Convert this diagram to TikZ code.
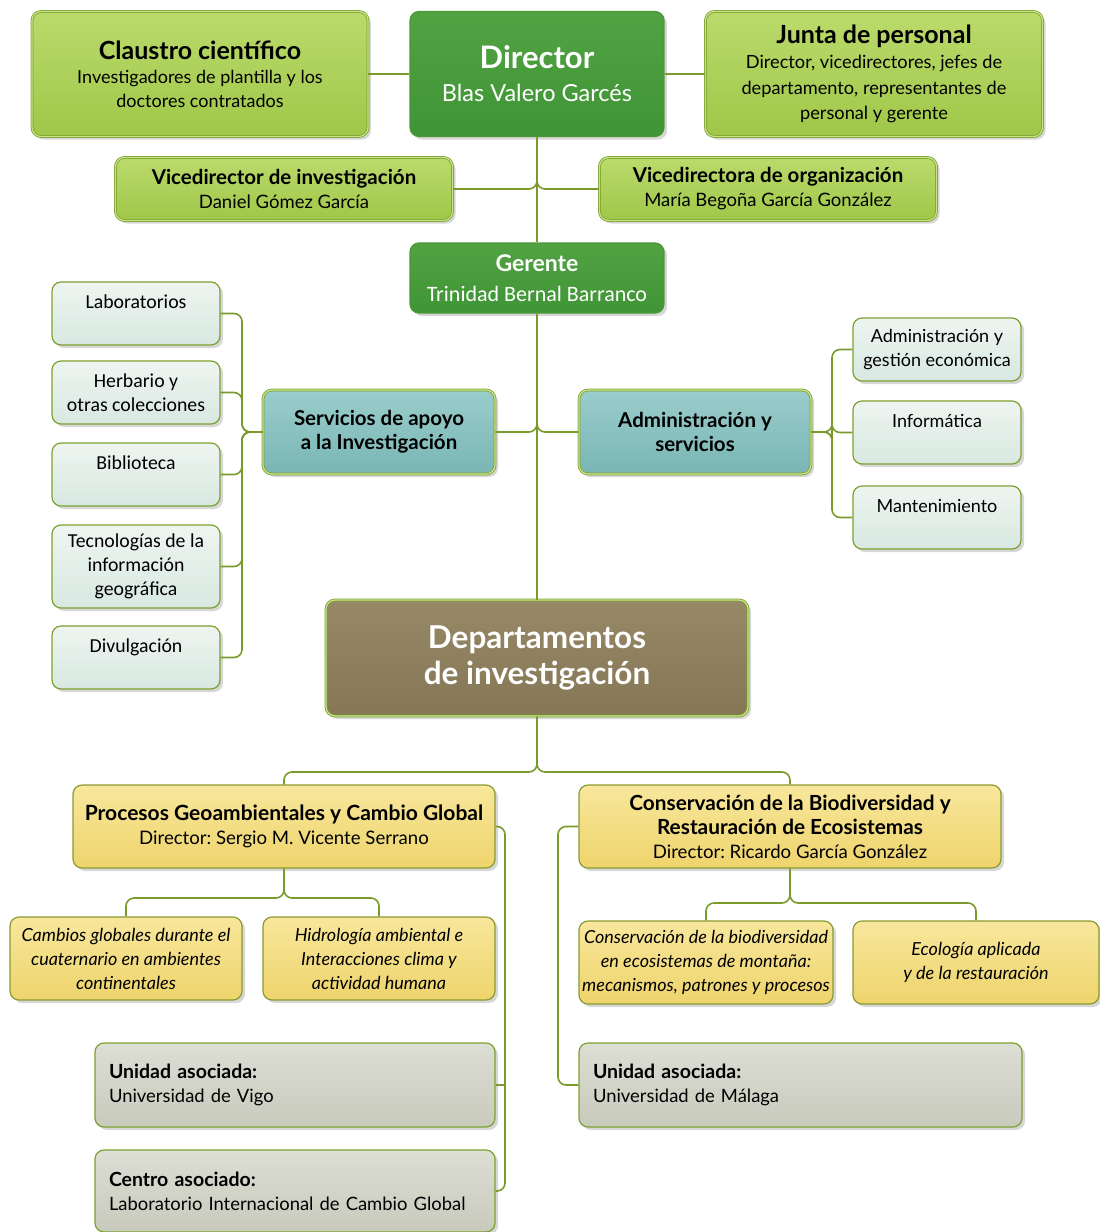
\documentclass[tikz,border=0pt]{standalone}
\usepackage{fontspec}
\setmainfont{Lato}
\newfontfamily\calfont{Carlito}
\usepackage{xcolor}
\usetikzlibrary{shadows}
\frenchspacing

\definecolor{edge}{HTML}{7DA12F}
\definecolor{edgelight}{HTML}{C9E38A}
\definecolor{connline}{HTML}{7B9A2C}
\definecolor{lgtop}{HTML}{BBDA6C}
\definecolor{lgbot}{HTML}{9FC748}
\definecolor{dgtop}{HTML}{52A242}
\definecolor{dgbot}{HTML}{3F9536}
\definecolor{tltop}{HTML}{9ACDCC}
\definecolor{tlbot}{HTML}{79B6B4}
\definecolor{pltop}{HTML}{EEF5F1}
\definecolor{plbot}{HTML}{D8E8E1}
\definecolor{dptop}{HTML}{978966}
\definecolor{dpbot}{HTML}{857656}
\definecolor{yltop}{HTML}{F8E79C}
\definecolor{ylbot}{HTML}{EED46C}
\definecolor{grtop}{HTML}{DDDED4}
\definecolor{grbot}{HTML}{C8CABC}

\newcommand*\setfs[2]{\fontsize{#1}{#2}\selectfont}

\tikzset{
  box/.style={rounded corners=9pt, draw=edge, line width=1.2pt, align=center,
    inner sep=0pt, drop shadow={shadow xshift=3pt, shadow yshift=-3pt,
    opacity=0.35, fill=black!45}},
  dbl/.style={line width=0.8pt, double=edgelight, double distance=1.2pt},
  lgreen/.style={box, dbl, top color=lgtop, bottom color=lgbot},
  dgreen/.style={box, draw=dgbot!80!edge, top color=dgtop, bottom color=dgbot, text=white},
  tealbox/.style={box, dbl, top color=tltop, bottom color=tlbot},
  palebox/.style={box, top color=pltop, bottom color=plbot, minimum width=168pt},
  deptbox/.style={box, dbl, top color=dptop, bottom color=dpbot, text=white},
  yellowbox/.style={box, top color=yltop, bottom color=ylbot, draw=edge!80!brown},
  graybox/.style={box, top color=grtop, bottom color=grbot, align=left},
  conn/.style={draw=connline, line width=1.6pt, rounded corners=8pt}
}

\begin{document}
\begin{tikzpicture}[x=1pt,y=-1pt]
  \useasboundingbox (0,0) rectangle (1100,1232);

  \node[lgreen, minimum width=336pt, minimum height=125pt, font=\setfs{18}{24}] (clau) at (200,74)
    {{\setfs{25}{26}\bfseries Claustro científico}\\
     Investigadores de plantilla y los\\doctores contratados};
  \node[dgreen, minimum width=254pt, minimum height=125pt, font=\setfs{23.5}{33}] (dir) at (537,74)
    {{\setfs{31}{33}\bfseries Director}\\Blas Valero Garcés};
  \node[lgreen, minimum width=337pt, minimum height=125pt, font=\setfs{18.2}{25.5}] (junta) at (874,74)
    {{\setfs{25}{25}\bfseries Junta de personal}\\
     Director, vicedirectores, jefes de\\
     departamento, representantes de\\personal y gerente};

  \node[lgreen, minimum width=337pt, minimum height=63pt, font=\setfs{18.5}{24}] (vinv) at (284,189)
    {{\setfs{20.5}{24}\bfseries Vicedirector de investigación}\\Daniel Gómez García};
  \node[lgreen, minimum width=337pt, minimum height=63pt, font=\setfs{18.5}{24}] (vorg) at (768,189)
    {{\setfs{20.5}{24}\bfseries Vicedirectora de organización}\\María Begoña García González};

  \node[dgreen, minimum width=254pt, minimum height=70pt, font=\setfs{22}{30}] (ger) at (537,278)
    {{\setfs{23}{30}\bfseries Gerente}\\{\calfont Trinidad Bernal Barranco}};

  \node[tealbox, minimum width=232pt, minimum height=84pt, font=\setfs{20.5}{24}\bfseries] (serv) at (379,432)
    {Servicios de apoyo\\a la Investigación};
  \node[tealbox, minimum width=232pt, minimum height=84pt, font=\setfs{20.5}{24}\bfseries] (adm) at (695,432)
    {Administración y\\servicios};

  \node[palebox, minimum height=63pt, font=\calfont\setfs{19.8}{24}] (lab) at (136,313.5)
    {Laboratorios\\\mbox{}};
  \node[palebox, minimum height=63pt, font=\calfont\setfs{19.8}{24}] (herb) at (136,392.5)
    {Herbario y\\otras colecciones};
  \node[palebox, minimum height=63pt, font=\calfont\setfs{19.8}{24}] (bib) at (136,474.5)
    {Biblioteca\\\mbox{}};
  \node[palebox, minimum height=83pt, font=\calfont\setfs{19.8}{24}] (tig) at (136,566.5)
    {Tecnologías de la\\información\\geográfica};
  \node[palebox, minimum height=63pt, font=\calfont\setfs{19.8}{24}] (div) at (136,657.5)
    {Divulgación\\\mbox{}};

  \node[palebox, minimum height=63pt, font=\setfs{18}{24}] (agec) at (937,349.5)
    {Administración y\\gestión económica};
  \node[palebox, minimum height=63pt, font=\setfs{18}{24}] (inf) at (937,432.5)
    {Informática\\\mbox{}};
  \node[palebox, minimum height=63pt, font=\setfs{18}{24}] (mant) at (937,517.5)
    {Mantenimiento\\\mbox{}};

  \node[deptbox, minimum width=422pt, minimum height=116pt, font=\setfs{31.5}{36}\bfseries] (dep) at (537,658)
    {Departamentos\\de investigación};

  \node[yellowbox, minimum width=422pt, minimum height=83pt, font=\setfs{18.6}{24}] (proc) at (284,826.5)
    {{\setfs{21}{24}\bfseries Procesos Geoambientales y Cambio Global}\\
     Director: Sergio M. Vicente Serrano};
  \node[yellowbox, minimum width=422pt, minimum height=83pt, font=\setfs{18.6}{24}] (cons) at (790,826.5)
    {{\setfs{20.8}{24}\bfseries Conservación de la Biodiversidad y}\\
     {\setfs{20.8}{24}\bfseries Restauración de Ecosistemas}\\
     Director: Ricardo García González};

  \node[yellowbox, minimum width=232pt, minimum height=83pt, font=\setfs{18}{24}\itshape] (camb) at (126,958.5)
    {Cambios globales durante el\\cuaternario en ambientes\\continentales};
  \node[yellowbox, minimum width=232pt, minimum height=83pt, font=\setfs{18}{24}\itshape] (hidr) at (379,958.5)
    {Hidrología ambiental e\\Interacciones clima y\\actividad humana};
  \node[yellowbox, minimum width=254pt, minimum height=83pt, font=\setfs{18}{24}\itshape] (cbio) at (706,962.5)
    {Conservación de la biodiversidad\\en ecosistemas de montaña:\\mecanismos, patrones y procesos};
  \node[yellowbox, minimum width=246pt, minimum height=83pt, font=\setfs{18}{24}\itshape] (ecol) at (976,962.5)
    {Ecología aplicada\\y de la restauración};

  \node[graybox, minimum width=400pt, minimum height=84pt, text width=372pt, font=\setfs{18.4}{24}] (vigo) at (295,1085)
    {{\setfs{19.5}{24}\bfseries Unidad asociada:}\\Universidad de Vigo};
  \node[graybox, minimum width=400pt, minimum height=82pt, text width=372pt, font=\setfs{18.4}{24}] (cent) at (295,1191)
    {{\setfs{19.5}{24}\bfseries Centro asociado:}\\Laboratorio Internacional de Cambio Global};
  \node[graybox, minimum width=443pt, minimum height=84pt, text width=415pt, font=\setfs{18.4}{24}] (mal) at (800.5,1085)
    {{\setfs{19.5}{24}\bfseries Unidad asociada:}\\Universidad de Málaga};

  \coordinate (vjoin) at (537,179);
  \coordinate (sjoin) at (537,422);
  \coordinate (lbus) at (242,432);
  \coordinate (rbus) at (832,432);
  \coordinate (dsplit) at (537,758);
  \coordinate (dbar) at (0,772);
  \coordinate (psplit) at (284,884);
  \coordinate (pbar) at (0,898);
  \coordinate (csplit) at (790,889);
  \coordinate (cbar) at (0,903);
  \coordinate (pside) at (505,0);
  \coordinate (cside) at (558,0);

  \draw[conn] (clau.east) -- (dir.west);
  \draw[conn] (dir.east) -- (junta.west);
  \draw[conn] (dir.south) -- (ger.north);
  \draw[conn] (ger.south) -- (dep.north);
  \draw[conn] (vinv.east) -| (vjoin);
  \draw[conn] (vorg.west) -| (vjoin);
  \draw[conn] (serv.east) -| (sjoin);
  \draw[conn] (adm.west) -| (sjoin);
  \foreach \n in {lab,herb,bib,tig,div}
    \draw[conn] (\n.east) -| (lbus) -- (serv.west);
  \foreach \n in {agec,inf,mant}
    \draw[conn] (adm.east) -- (rbus) |- (\n.west);
  \draw[conn] (dep.south) -- (dsplit) |- (proc.north |- dbar) -- (proc.north);
  \draw[conn] (dsplit) |- (cons.north |- dbar) -- (cons.north);
  \draw[conn] (proc.south) -- (psplit) |- (camb.north |- pbar) -- (camb.north);
  \draw[conn] (psplit) |- (hidr.north |- pbar) -- (hidr.north);
  \draw[conn] (cons.south) -- (csplit) |- (cbio.north |- cbar) -- (cbio.north);
  \draw[conn] (csplit) |- (ecol.north |- cbar) -- (ecol.north);
  \draw[conn] (proc.east) -| (pside |- cent.east) -- (cent.east);
  \draw[conn] (vigo.east) -- (vigo.east -| pside);
  \draw[conn] (cons.west) -| (cside |- mal.west) -- (mal.west);
\end{tikzpicture}
\end{document}
